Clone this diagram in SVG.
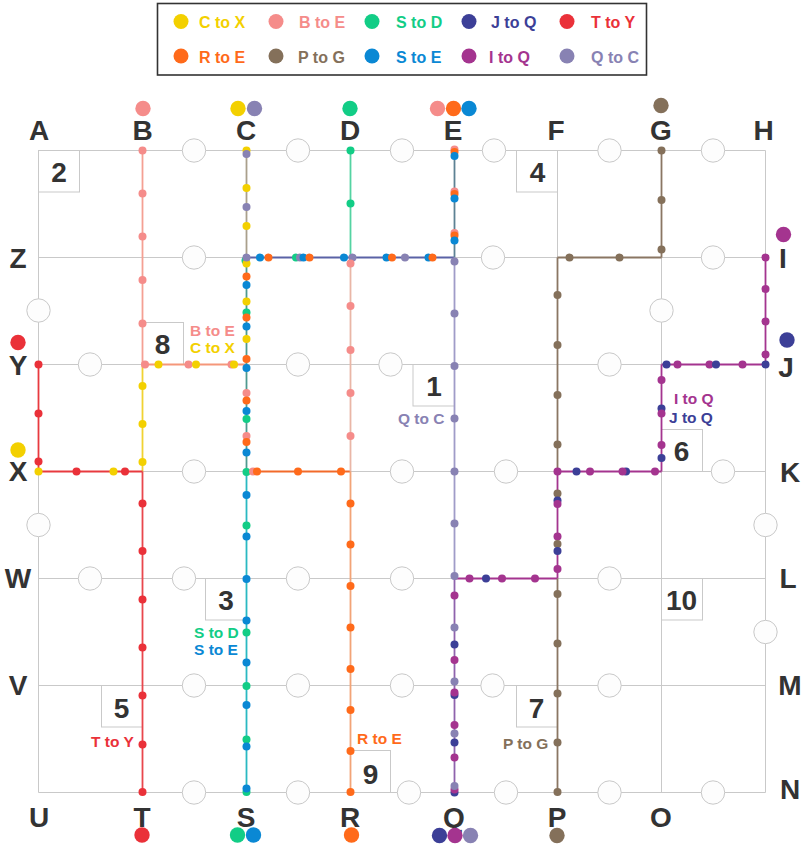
<svg xmlns="http://www.w3.org/2000/svg" width="803" height="847" viewBox="0 0 803 847">
<style>
text{font-family:"Liberation Sans",Arial,Helvetica,sans-serif;font-weight:bold}
.grid line{stroke:#c9c9c9;stroke-width:1}
.ring{fill:#fdfdfd;stroke:#c9c9c9;stroke-width:1}
.box{fill:none;stroke:#c9c9c9;stroke-width:1}
.num{font-size:28px;fill:#333;text-anchor:middle}
.let{font-size:28px;fill:#333;text-anchor:middle}
.lbl{font-size:15.5px}
.leg{font-size:16px}
.seg line{stroke-width:1.8;fill:none}
.y{fill:#f3d000}.pk{fill:#f58c8a}.gr{fill:#12cd86}.nv{fill:#3c3f97}.rd{fill:#ea3139}
.or{fill:#ff6a1a}.br{fill:#84705a}.bl{fill:#0a88d4}.mg{fill:#a4348f}.lv{fill:#8882b3}
</style>

<!-- legend -->
<g id="legend">
<rect x="157.5" y="3.5" width="489" height="71.5" fill="#fff" stroke="#333" stroke-width="1.6"/>
<circle class="y" cx="181" cy="21.5" r="7.5"/><text class="leg y" x="199" y="28">C to X</text>
<circle class="pk" cx="276" cy="21.5" r="7.5"/><text class="leg pk" x="299" y="28">B to E</text>
<circle class="gr" cx="372" cy="21.5" r="7.5"/><text class="leg gr" x="396" y="28">S to D</text>
<circle class="nv" cx="469" cy="21.5" r="7.5"/><text class="leg nv" x="491" y="28">J to Q</text>
<circle class="rd" cx="567" cy="21.5" r="7.5"/><text class="leg rd" x="591" y="28">T to Y</text>
<circle class="or" cx="181" cy="56" r="7.5"/><text class="leg or" x="199" y="62.5">R to E</text>
<circle class="br" cx="276" cy="56" r="7.5"/><text class="leg br" x="298" y="62.5">P to G</text>
<circle class="bl" cx="372" cy="56" r="7.5"/><text class="leg bl" x="396" y="62.5">S to E</text>
<circle class="mg" cx="469" cy="56" r="7.5"/><text class="leg mg" x="489" y="62.5">I to Q</text>
<circle class="lv" cx="567" cy="56" r="7.5"/><text class="leg lv" x="591" y="62.5">Q to C</text>
</g>

<!-- grid -->
<g class="grid" id="grid">
<line x1="38.5" y1="150.5" x2="765.5" y2="150.5"/>
<line x1="38.5" y1="257.5" x2="765.5" y2="257.5"/>
<line x1="38.5" y1="364.5" x2="765.5" y2="364.5"/>
<line x1="38.5" y1="471.5" x2="765.5" y2="471.5"/>
<line x1="38.5" y1="578.5" x2="765.5" y2="578.5"/>
<line x1="38.5" y1="685.5" x2="765.5" y2="685.5"/>
<line x1="38.5" y1="792.5" x2="765.5" y2="792.5"/>
<line x1="38.5" y1="150.5" x2="38.5" y2="792.5"/>
<line x1="142.5" y1="150.5" x2="142.5" y2="792.5"/>
<line x1="246.5" y1="150.5" x2="246.5" y2="792.5"/>
<line x1="350.5" y1="150.5" x2="350.5" y2="792.5"/>
<line x1="454.5" y1="150.5" x2="454.5" y2="792.5"/>
<line x1="557.5" y1="150.5" x2="557.5" y2="792.5"/>
<line x1="661.5" y1="150.5" x2="661.5" y2="792.5"/>
<line x1="765.5" y1="150.5" x2="765.5" y2="792.5"/>
</g>

<!-- ring nodes -->
<g id="rings">
<circle class="ring" cx="194" cy="150.5" r="11.7"/><circle class="ring" cx="298" cy="150.5" r="11.7"/><circle class="ring" cx="402" cy="150.5" r="11.7"/><circle class="ring" cx="494" cy="150.5" r="11.7"/><circle class="ring" cx="609.5" cy="150.5" r="11.7"/><circle class="ring" cx="713" cy="150.5" r="11.7"/>
<circle class="ring" cx="194" cy="257.5" r="11.7"/><circle class="ring" cx="493" cy="257.5" r="11.7"/><circle class="ring" cx="713" cy="257.5" r="11.7"/>
<circle class="ring" cx="38.5" cy="310.5" r="11.7"/><circle class="ring" cx="661.5" cy="310.5" r="11.7"/>
<circle class="ring" cx="90" cy="364.5" r="11.7"/><circle class="ring" cx="298" cy="364.5" r="11.7"/><circle class="ring" cx="390.5" cy="364.5" r="11.7"/><circle class="ring" cx="609.5" cy="364.5" r="11.7"/>
<circle class="ring" cx="194" cy="471.5" r="11.7"/><circle class="ring" cx="402" cy="471.5" r="11.7"/><circle class="ring" cx="506" cy="471.5" r="11.7"/><circle class="ring" cx="723" cy="471.5" r="11.7"/>
<circle class="ring" cx="38.5" cy="525" r="11.7"/><circle class="ring" cx="765.5" cy="525" r="11.7"/>
<circle class="ring" cx="90" cy="578.5" r="11.7"/><circle class="ring" cx="184" cy="578.5" r="11.7"/><circle class="ring" cx="298" cy="578.5" r="11.7"/><circle class="ring" cx="402" cy="578.5" r="11.7"/><circle class="ring" cx="609.5" cy="578.5" r="11.7"/>
<circle class="ring" cx="765.5" cy="632" r="11.7"/>
<circle class="ring" cx="194" cy="685.5" r="11.7"/><circle class="ring" cx="298" cy="685.5" r="11.7"/><circle class="ring" cx="402" cy="685.5" r="11.7"/><circle class="ring" cx="492.5" cy="685.5" r="11.7"/><circle class="ring" cx="609.5" cy="685.5" r="11.7"/>
<circle class="ring" cx="194" cy="792.5" r="11.7"/><circle class="ring" cx="298" cy="792.5" r="11.7"/><circle class="ring" cx="409" cy="792.5" r="11.7"/><circle class="ring" cx="506" cy="792.5" r="11.7"/><circle class="ring" cx="609.5" cy="792.5" r="11.7"/><circle class="ring" cx="713" cy="792.5" r="11.7"/>
</g>

<!-- numbered blocks -->
<g id="block2"><rect class="box" x="38.5" y="150.5" width="41" height="41.5"/><text class="num" x="59" y="181.5">2</text></g>
<g id="block4"><rect class="box" x="516.5" y="150.5" width="41" height="41.5"/><text class="num" x="537.5" y="181.5">4</text></g>
<g id="block8"><rect class="box" x="142.5" y="322.5" width="41" height="42"/><text class="num" x="162.5" y="354">8</text></g>
<g id="block1"><rect class="box" x="413" y="364.5" width="41.5" height="41.5"/><text class="num" x="434" y="396">1</text></g>
<g id="block6"><rect class="box" x="661.5" y="429.5" width="41" height="42"/><text class="num" x="681.5" y="461">6</text></g>
<g id="block3"><rect class="box" x="205.5" y="578.5" width="41" height="41.5"/><text class="num" x="226" y="610">3</text></g>
<g id="block10"><rect class="box" x="661.5" y="578.5" width="41" height="41.5"/><text class="num" x="681.5" y="610">10</text></g>
<g id="block5"><rect class="box" x="101.5" y="685.5" width="41" height="41.5"/><text class="num" x="121.5" y="718">5</text></g>
<g id="block9"><rect class="box" x="350.5" y="750.5" width="40" height="42"/><text class="num" x="370.5" y="784">9</text></g>
<g id="block7"><rect class="box" x="516.5" y="685.5" width="41" height="41.5"/><text class="num" x="536.5" y="717.5">7</text></g>

<!-- station letters -->
<g id="letters">
<text class="let" x="39" y="140">A</text><text class="let" x="142.5" y="140">B</text><text class="let" x="246" y="140">C</text><text class="let" x="350" y="140">D</text><text class="let" x="453" y="140">E</text><text class="let" x="556" y="140">F</text><text class="let" x="661" y="140">G</text><text class="let" x="763.5" y="140">H</text>
<text class="let" x="18" y="268">Z</text><text class="let" x="18" y="375">Y</text><text class="let" x="18" y="481">X</text><text class="let" x="18" y="588">W</text><text class="let" x="18" y="695">V</text>
<text class="let" x="783" y="268">I</text><text class="let" x="786" y="377">J</text><text class="let" x="790" y="482">K</text><text class="let" x="788" y="588">L</text><text class="let" x="790" y="695">M</text><text class="let" x="790" y="799">N</text>
<text class="let" x="39" y="827">U</text><text class="let" x="142" y="827">T</text><text class="let" x="246" y="827">S</text><text class="let" x="350" y="827">R</text><text class="let" x="454" y="827">Q</text><text class="let" x="557" y="827">P</text><text class="let" x="661" y="827">O</text>
</g>

<!-- connectors (routes) -->
<g class="seg" id="connectors">
<line x1="142.5" y1="150.5" x2="142.5" y2="364.5" stroke="#f4a093"/>
<line x1="142.5" y1="364.5" x2="246.5" y2="364.5" stroke="#f5977a"/>
<line x1="142.5" y1="364.5" x2="142.5" y2="471.5" stroke="#f0d232"/>
<line x1="142.5" y1="471.5" x2="142.5" y2="792.5" stroke="#e9474d"/>
<line x1="38.5" y1="471.5" x2="142.5" y2="471.5" stroke="#e83a3f"/>
<line x1="38.5" y1="364.5" x2="38.5" y2="471.5" stroke="#e83a3f"/>
<line x1="246.5" y1="150.5" x2="246.5" y2="257.5" stroke="#aaa08c"/>
<line x1="246.5" y1="257.5" x2="246.5" y2="471.5" stroke="#4f9a90"/>
<line x1="246.5" y1="471.5" x2="246.5" y2="792.5" stroke="#2ab9c2"/>
<line x1="246.5" y1="471.5" x2="350.5" y2="471.5" stroke="#f26a2a"/>
<line x1="350.5" y1="150.5" x2="350.5" y2="257.5" stroke="#54d3a2"/>
<line x1="350.5" y1="257.5" x2="350.5" y2="471.5" stroke="#e9b6a6"/>
<line x1="350.5" y1="471.5" x2="350.5" y2="792.5" stroke="#f2a477"/>
<line x1="246.5" y1="257.5" x2="454.5" y2="257.5" stroke="#5a62a6"/>
<line x1="454.5" y1="150.5" x2="454.5" y2="257.5" stroke="#5d8294"/>
<line x1="454.5" y1="257.5" x2="454.5" y2="578.5" stroke="#a09cc8"/>
<line x1="454.5" y1="578.5" x2="454.5" y2="792.5" stroke="#8f63ad"/>
<line x1="454.5" y1="578.5" x2="557.5" y2="578.5" stroke="#a4348f"/>
<line x1="557.5" y1="257.5" x2="557.5" y2="471.5" stroke="#8a7663"/>
<line x1="557.5" y1="471.5" x2="557.5" y2="578.5" stroke="#a4348f"/>
<line x1="557.5" y1="578.5" x2="557.5" y2="792.5" stroke="#8a7663"/>
<line x1="557.5" y1="257.5" x2="661.5" y2="257.5" stroke="#8a7663"/>
<line x1="661.5" y1="150.5" x2="661.5" y2="257.5" stroke="#8a7663"/>
<line x1="557.5" y1="471.5" x2="661.5" y2="471.5" stroke="#a4348f"/>
<line x1="661.5" y1="364.5" x2="661.5" y2="471.5" stroke="#a4348f"/>
<line x1="661.5" y1="364.5" x2="765.5" y2="364.5" stroke="#a4348f"/>
<line x1="765.5" y1="257.5" x2="765.5" y2="364.5" stroke="#a4348f"/>
</g>

<!-- route dots -->
<g id="dots">
<circle class="pk" cx="142.5" cy="150.5" r="4"/><circle class="pk" cx="142.5" cy="193.5" r="4"/><circle class="pk" cx="142.5" cy="236.5" r="4"/><circle class="pk" cx="142.5" cy="280" r="4"/><circle class="pk" cx="142.5" cy="323.5" r="4"/>
<circle class="pk" cx="145" cy="364.5" r="4"/><circle class="y" cx="158.5" cy="364.5" r="4"/><circle class="pk" cx="188.5" cy="364.5" r="4"/><circle class="y" cx="196" cy="364.5" r="4"/><circle class="pk" cx="231.5" cy="364.5" r="4"/><circle class="y" cx="234" cy="364.5" r="4"/>
<circle class="y" cx="142.5" cy="386" r="4"/><circle class="y" cx="142.5" cy="424" r="4"/><circle class="y" cx="142.5" cy="462" r="4"/>
<circle class="rd" cx="142.5" cy="503.5" r="4"/><circle class="rd" cx="142.5" cy="551" r="4"/><circle class="rd" cx="142.5" cy="599.5" r="4"/><circle class="rd" cx="142.5" cy="647.5" r="4"/><circle class="rd" cx="142.5" cy="695.5" r="4"/><circle class="rd" cx="142.5" cy="744.5" r="4"/><circle class="rd" cx="142.5" cy="792" r="4"/>
<circle class="rd" cx="38.5" cy="364.5" r="4"/><circle class="rd" cx="38.5" cy="413.5" r="4"/><circle class="rd" cx="38.5" cy="461.5" r="4"/>
<circle class="y" cx="38.5" cy="471.5" r="4"/><circle class="rd" cx="76.5" cy="471.5" r="4"/><circle class="y" cx="113.5" cy="471.5" r="4"/><circle class="rd" cx="125" cy="471.5" r="4"/>
<circle class="y" cx="246.5" cy="150.5" r="4"/><circle class="lv" cx="246.5" cy="154" r="4"/><circle class="y" cx="246.5" cy="188" r="4"/><circle class="lv" cx="246.5" cy="207" r="4"/><circle class="y" cx="246.5" cy="226" r="4"/>
<circle class="gr" cx="245.5" cy="260.5" r="4"/><circle class="y" cx="246.5" cy="263.5" r="4"/><circle class="lv" cx="246.5" cy="257.5" r="4"/>
<circle class="or" cx="246.5" cy="276.5" r="4"/><circle class="bl" cx="246.5" cy="285" r="4"/><circle class="y" cx="246.5" cy="301.5" r="4"/><circle class="gr" cx="246.5" cy="312.5" r="4"/><circle class="or" cx="246.5" cy="317.5" r="4"/><circle class="bl" cx="246.5" cy="326.5" r="4"/><circle class="y" cx="246.5" cy="339" r="4"/><circle class="or" cx="246.5" cy="359" r="4"/><circle class="bl" cx="246.5" cy="368" r="4"/>
<circle class="pk" cx="246.5" cy="393" r="4"/><circle class="or" cx="246.5" cy="400.5" r="4"/><circle class="bl" cx="246.5" cy="411" r="4"/><circle class="gr" cx="246.5" cy="419" r="4"/><circle class="pk" cx="246.5" cy="436" r="4"/><circle class="or" cx="246.5" cy="442" r="4"/><circle class="bl" cx="246.5" cy="452.5" r="4"/>
<circle class="gr" cx="246.5" cy="472" r="4"/><circle class="bl" cx="246.5" cy="495" r="4"/><circle class="gr" cx="246.5" cy="525.5" r="4"/><circle class="bl" cx="246.5" cy="536.5" r="4"/><circle class="bl" cx="246.5" cy="579" r="4"/><circle class="bl" cx="246.5" cy="620.5" r="4"/><circle class="gr" cx="246.5" cy="632.5" r="4"/><circle class="bl" cx="246.5" cy="662.5" r="4"/>
<circle class="gr" cx="246.5" cy="686" r="4"/><circle class="bl" cx="246.5" cy="705" r="4"/><circle class="gr" cx="246.5" cy="739.5" r="4"/><circle class="bl" cx="246.5" cy="746.5" r="4"/><circle class="gr" cx="246.5" cy="792" r="4"/><circle class="bl" cx="246.5" cy="788.5" r="4"/>
<circle class="pk" cx="253" cy="471.5" r="4"/><circle class="or" cx="257" cy="471.5" r="4"/><circle class="or" cx="298" cy="471.5" r="4"/><circle class="or" cx="341" cy="471.5" r="4"/>
<circle class="bl" cx="260" cy="257.5" r="4"/><circle class="or" cx="268.5" cy="257.5" r="4"/><circle class="gr" cx="296" cy="257.5" r="4"/><circle class="lv" cx="300" cy="257.5" r="4"/><circle class="bl" cx="303.5" cy="257.5" r="4"/><circle class="or" cx="309.5" cy="257.5" r="4"/>
<circle class="bl" cx="344" cy="257.5" r="4"/><circle class="lv" cx="352.5" cy="257.5" r="4"/><circle class="bl" cx="386.5" cy="257.5" r="4"/><circle class="or" cx="392" cy="257.5" r="4"/><circle class="lv" cx="405" cy="257.5" r="4"/><circle class="bl" cx="428.5" cy="257.5" r="4"/><circle class="or" cx="432.5" cy="257.5" r="4"/>
<circle class="gr" cx="350.5" cy="150.5" r="4"/><circle class="gr" cx="350.5" cy="203.5" r="4"/>
<circle class="pk" cx="350.5" cy="263.5" r="4"/><circle class="pk" cx="350.5" cy="306" r="4"/><circle class="pk" cx="350.5" cy="350" r="4"/><circle class="pk" cx="350.5" cy="393" r="4"/><circle class="pk" cx="350.5" cy="436" r="4"/>
<circle class="or" cx="350.5" cy="503.5" r="4"/><circle class="or" cx="350.5" cy="544.5" r="4"/><circle class="or" cx="350.5" cy="586" r="4"/><circle class="or" cx="350.5" cy="627.5" r="4"/><circle class="or" cx="350.5" cy="669" r="4"/><circle class="or" cx="350.5" cy="710" r="4"/><circle class="or" cx="350.5" cy="751" r="4"/><circle class="or" cx="350.5" cy="792" r="4"/>
<circle class="pk" cx="454.5" cy="149.5" r="4"/><circle class="or" cx="454.5" cy="152" r="4"/><circle class="bl" cx="454.5" cy="156" r="4"/>
<circle class="pk" cx="454.5" cy="191.5" r="4"/><circle class="or" cx="454.5" cy="194" r="4"/><circle class="bl" cx="454.5" cy="198.5" r="4"/>
<circle class="pk" cx="454.5" cy="233" r="4"/><circle class="or" cx="454.5" cy="235.5" r="4"/><circle class="bl" cx="454.5" cy="240.5" r="4"/>
<circle class="lv" cx="454.5" cy="261.5" r="4"/><circle class="lv" cx="454.5" cy="313.5" r="4"/><circle class="lv" cx="454.5" cy="366" r="4"/><circle class="lv" cx="454.5" cy="418.5" r="4"/><circle class="lv" cx="454.5" cy="471.5" r="4"/><circle class="lv" cx="454.5" cy="523.5" r="4"/><circle class="lv" cx="454.5" cy="576" r="4"/>
<circle class="mg" cx="454.5" cy="595.5" r="4"/><circle class="lv" cx="454.5" cy="627.5" r="4"/><circle class="nv" cx="454.5" cy="644.5" r="4"/><circle class="mg" cx="454.5" cy="660" r="4"/><circle class="lv" cx="454.5" cy="681.5" r="4"/><circle class="nv" cx="454.5" cy="695" r="4"/><circle class="mg" cx="454.5" cy="692.5" r="4"/>
<circle class="mg" cx="454.5" cy="725" r="4"/><circle class="lv" cx="454.5" cy="733.5" r="4"/><circle class="nv" cx="454.5" cy="742.5" r="4"/><circle class="mg" cx="454.5" cy="757.5" r="4"/><circle class="nv" cx="454.5" cy="792.5" r="4"/><circle class="mg" cx="454.5" cy="789.5" r="4"/><circle class="lv" cx="454.5" cy="786" r="4"/>
<circle class="mg" cx="469.5" cy="578.5" r="4"/><circle class="nv" cx="486" cy="578.5" r="4"/><circle class="mg" cx="502" cy="578.5" r="4"/><circle class="mg" cx="535" cy="578.5" r="4"/>
<circle class="br" cx="557.5" cy="295" r="4"/><circle class="br" cx="557.5" cy="345" r="4"/><circle class="br" cx="557.5" cy="395" r="4"/><circle class="br" cx="557.5" cy="444.5" r="4"/><circle class="mg" cx="557.5" cy="471.5" r="4"/>
<circle class="br" cx="557.5" cy="493.5" r="4"/><circle class="nv" cx="557.5" cy="500.5" r="4"/><circle class="mg" cx="557.5" cy="504" r="4"/><circle class="mg" cx="557.5" cy="536.5" r="4"/><circle class="br" cx="557.5" cy="544" r="4"/><circle class="nv" cx="557.5" cy="551" r="4"/><circle class="mg" cx="557.5" cy="569" r="4"/>
<circle class="br" cx="557.5" cy="594" r="4"/><circle class="br" cx="557.5" cy="643.5" r="4"/><circle class="br" cx="557.5" cy="693.5" r="4"/><circle class="br" cx="557.5" cy="742.5" r="4"/><circle class="br" cx="557.5" cy="792" r="4"/>
<circle class="br" cx="569.5" cy="257.5" r="4"/><circle class="br" cx="619.5" cy="257.5" r="4"/><circle class="br" cx="661.5" cy="249.5" r="4"/><circle class="br" cx="661.5" cy="200" r="4"/><circle class="br" cx="661.5" cy="150.5" r="4"/>
<circle class="nv" cx="576.5" cy="471.5" r="4"/><circle class="mg" cx="590" cy="471.5" r="4"/><circle class="nv" cx="626" cy="471.5" r="4"/><circle class="mg" cx="622.5" cy="471.5" r="4"/><circle class="mg" cx="655" cy="471.5" r="4"/>
<circle class="nv" cx="661.5" cy="458" r="4"/><circle class="mg" cx="661.5" cy="445" r="4"/><circle class="nv" cx="661.5" cy="408.5" r="4"/><circle class="mg" cx="661.5" cy="413.5" r="4"/><circle class="mg" cx="661.5" cy="380" r="4"/>
<circle class="nv" cx="666.5" cy="364.5" r="4"/><circle class="mg" cx="677.5" cy="364.5" r="4"/><circle class="mg" cx="709.5" cy="364.5" r="4"/><circle class="nv" cx="716" cy="364.5" r="4"/><circle class="mg" cx="742.5" cy="364.5" r="4"/><circle class="nv" cx="765.5" cy="364.5" r="4"/>
<circle class="mg" cx="765.5" cy="257.5" r="4"/><circle class="mg" cx="765.5" cy="289" r="4"/><circle class="mg" cx="765.5" cy="321.5" r="4"/><circle class="mg" cx="765.5" cy="354.5" r="4"/>
</g>

<!-- endpoint markers -->
<g id="endpoints">
<circle class="pk" cx="143" cy="108.5" r="7.7"/>
<circle class="y" cx="238" cy="108.5" r="7.7"/><circle class="lv" cx="254.5" cy="108.5" r="7.7"/>
<circle class="gr" cx="350" cy="108.5" r="7.7"/>
<circle class="pk" cx="437.5" cy="108.5" r="7.7"/><circle class="or" cx="453.5" cy="108.5" r="7.7"/><circle class="bl" cx="469" cy="108.5" r="7.7"/>
<circle class="br" cx="661" cy="105.5" r="7.7"/>
<circle class="mg" cx="783.5" cy="234.5" r="7.7"/>
<circle class="nv" cx="787" cy="340" r="7.7"/>
<circle class="rd" cx="18" cy="342.5" r="7.7"/>
<circle class="y" cx="18" cy="450" r="7.7"/>
<circle class="rd" cx="142" cy="835" r="7.7"/>
<circle class="gr" cx="237.5" cy="835" r="7.7"/><circle class="bl" cx="253.5" cy="835" r="7.7"/>
<circle class="or" cx="351.5" cy="835" r="7.7"/>
<circle class="nv" cx="439.5" cy="835.5" r="7.7"/><circle class="mg" cx="455" cy="835.5" r="7.7"/><circle class="lv" cx="470.5" cy="835.5" r="7.7"/>
<circle class="br" cx="557" cy="835.5" r="7.7"/>
</g>

<!-- route labels -->
<g id="labels">
<text class="lbl pk" x="190" y="336">B to E</text>
<text class="lbl y" x="190" y="353">C to X</text>
<text class="lbl lv" x="398" y="424">Q to C</text>
<text class="lbl mg" x="674" y="404">I to Q</text>
<text class="lbl nv" x="669" y="423">J to Q</text>
<text class="lbl gr" x="194" y="638">S to D</text>
<text class="lbl bl" x="194" y="655">S to E</text>
<text class="lbl rd" x="91" y="747">T to Y</text>
<text class="lbl or" x="357" y="743.5">R to E</text>
<text class="lbl br" x="503" y="748.5">P to G</text>
</g>
</svg>
